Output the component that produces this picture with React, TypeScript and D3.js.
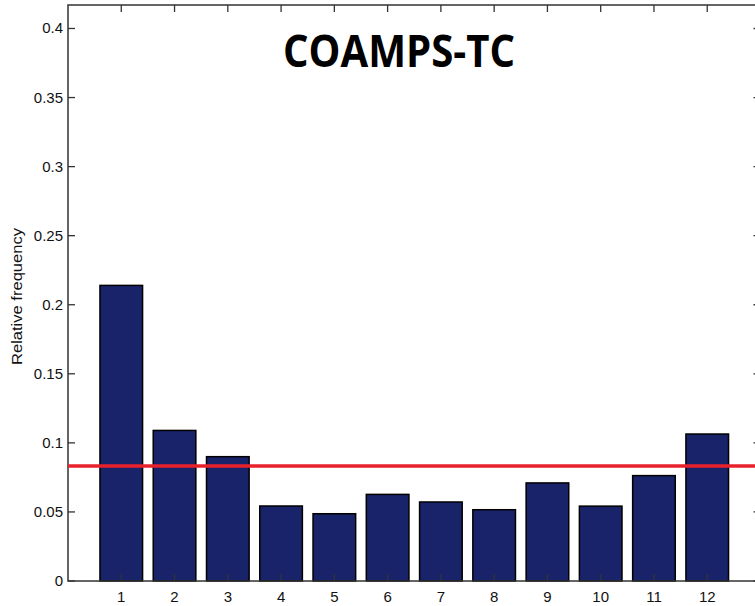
import React from "react";
import * as d3 from "d3";

const categories = ["1", "2", "3", "4", "5", "6", "7", "8", "9", "10", "11", "12"];
const frequencies = [0.214, 0.109, 0.090, 0.0543, 0.0487, 0.0627, 0.0572, 0.0516, 0.071, 0.0542, 0.0763, 0.1064];
const yTicks = [0, 0.05, 0.1, 0.15, 0.2, 0.25, 0.3, 0.35, 0.4];
const yTickLabels = ["0", "0.05", "0.1", "0.15", "0.2", "0.25", "0.3", "0.35", "0.4"];
const uniformLevel = 1 / 12;
const titleText = "COAMPS-TC";
const yLabelText = "Relative frequency";

export default function App() {
  const W = 755, H = 606;
  const left = 68, right = 760.5, top = 5, bottom = 581;
  const x = d3.scaleLinear().domain([0, 13]).range([left, right]);
  const y = d3.scaleLinear().domain([0, 0.417]).range([bottom, top]);
  const barW = x(0.8) - x(0);
  const axisColor = "#333";
  const font = "'Liberation Sans', Arial, sans-serif";

  return (
    <svg width={W} height={H} style={{ position: "absolute", left: 0, top: 0, background: "#fff" }}>
      <rect x={0} y={0} width={W} height={H} fill="#fff" />
      {frequencies.map((v, i) => (
        <rect
          key={i}
          x={x(i + 1) - barW / 2}
          y={y(v)}
          width={barW}
          height={y(0) - y(v)}
          fill="#192369"
          stroke="#000"
          strokeWidth={1.5}
        />
      ))}
      {/* axes box */}
      <rect x={left} y={top} width={right - left} height={bottom - top} fill="none" stroke={axisColor} strokeWidth={1.5} />
      {/* y ticks */}
      {yTicks.map((t, i) => (
        <g key={i}>
          <line x1={left} x2={left + 7} y1={y(t)} y2={y(t)} stroke={axisColor} strokeWidth={1.3} />
          <line x1={right} x2={right - 7} y1={y(t)} y2={y(t)} stroke={axisColor} strokeWidth={1.3} />
          <text x={63} y={y(t) + 5} textAnchor="end" fontFamily={font} fontSize={15} fill="#111">
            {yTickLabels[i]}
          </text>
        </g>
      ))}
      {/* x ticks */}
      {categories.map((c, i) => (
        <g key={c}>
          <line x1={x(i + 1)} x2={x(i + 1)} y1={bottom} y2={bottom - 7} stroke={axisColor} strokeWidth={1.3} />
          <line x1={x(i + 1)} x2={x(i + 1)} y1={top} y2={top + 7} stroke={axisColor} strokeWidth={1.3} />
          <text x={x(i + 1)} y={601.5} textAnchor="middle" fontFamily={font} fontSize={15} fill="#111">
            {c}
          </text>
        </g>
      ))}
      {/* uniform reference line */}
      <line x1={left} x2={W} y1={y(uniformLevel)} y2={y(uniformLevel)} stroke="#e8212b" strokeWidth={3.5} />
      {/* y label */}
      <text
        transform={`translate(21.5,296.5) rotate(-90)`}
        textAnchor="middle"
        fontFamily={font}
        fontSize={14}
        textLength={137}
        lengthAdjust="spacingAndGlyphs"
        fill="#111"
      >
        {yLabelText}
      </text>
      {/* title */}
      <text
        x={399}
        y={66.5}
        textAnchor="middle"
        fontFamily="'Open Sans', sans-serif"
        fontWeight="bold"
        fontSize={44}
        textLength={232}
        lengthAdjust="spacingAndGlyphs"
        fill="#000"
      >
        {titleText}
      </text>
    </svg>
  );
}
